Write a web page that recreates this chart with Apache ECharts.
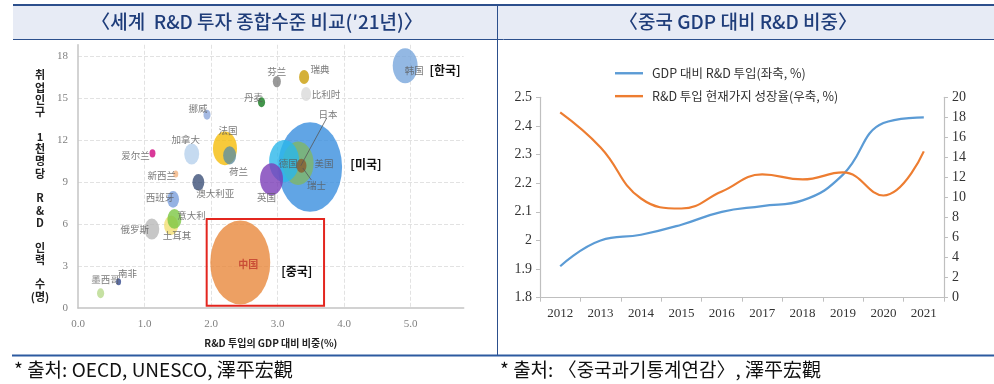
<!DOCTYPE html>
<html><head><meta charset="utf-8">
<script src="https://cdn.jsdelivr.net/npm/echarts@6/dist/echarts.min.js"></script>
<style>html,body{margin:0;padding:0;background:#fff}#c{width:994px;height:384px}</style>
</head><body><div id="c"></div>
<script>
// ---- Left chart data: world R&D comparison ('21) ----
const countries   = ['美国','中国','日本','德国','瑞士','英国','韩国','法国','荷兰','加拿大','爱尔兰','挪威','新西兰','澳大利亚','西班牙','土耳其','意大利','俄罗斯','南非','墨西哥','芬兰','瑞典','比利时','丹麦'];
const gdpShare    = [3.49, 2.44, 3.31, 3.10, 3.36, 2.91, 4.92, 2.21, 2.28, 1.71, 1.12, 1.94, 1.47, 1.81, 1.43, 1.40, 1.45, 1.11, 0.61, 0.34, 2.99, 3.40, 3.43, 2.76];
const researchers = [10.07, 3.25, 10.34, 10.50, 10.16, 9.20, 17.30, 11.40, 10.90, 11.00, 11.05, 13.80, 9.57, 8.98, 7.76, 5.90, 6.36, 5.64, 1.88, 1.05, 16.17, 16.50, 15.29, 14.69];
const rdSpend     = [809, 711, 190, 178, 20, 104, 123, 114, 33, 44, 7, 10, 5, 28, 28, 39, 39, 44, 5, 10, 13, 20, 20, 10];
const xTickLabels = ['0.0','1.0','2.0','3.0','4.0','5.0'];
const yTickLabels = ['0','3','6','9','12','15','18'];

// ---- Right chart data: China R&D / GDP ----
const years    = ['2012','2013','2014','2015','2016','2017','2018','2019','2020','2021'];
const rdToGdp  = [1.91, 2.00, 2.02, 2.055, 2.10, 2.12, 2.14, 2.23, 2.41, 2.43];
const rdGrowth = [18.5, 15.0, 9.9, 8.9, 10.6, 12.3, 11.8, 12.5, 10.2, 14.6];

// ---- styles (kept separate from data) ----
const bubbleColor = {
  '美国':'#3a8ede','中国':'#e8883c','日本':'#7fb666','德国':'#2bb6ea','瑞士':'#8a5a2c','英国':'#7a3db8',
  '韩国':'#78a6dc','法国':'#f5bd0a','荷兰':'#5e8fa2','加拿大':'#b6d1ec','爱尔兰':'#d0087f','挪威':'#8fa9dc',
  '新西兰':'#f2b37f','澳大利亚':'#3c5078','西班牙':'#7a9fdc','土耳其':'#f3df73','意大利':'#7cc744','俄罗斯':'#b9b9b9',
  '南非':'#344a8c','墨西哥':'#b8d98c','芬兰':'#7f7f7f','瑞典':'#c99c06','比利时':'#d9d9d9','丹麦':'#147a1e'
};
const labelOffset = {
  '美国':[14,-4],'中国':[8,2],'日本':[30,-49],'德国':[4,2],'瑞士':[15,20],'英国':[-5,18],
  '韩国':[9,5],'法国':[3,-18],'荷兰':[9,16],'加拿大':[-6,-15],'爱尔兰':[-17,2],'挪威':[-9,-6],
  '新西兰':[-14,1],'澳大利亚':[17,11],'西班牙':[-13,-2],'土耳其':[6,10],'意大利':[17,-4],'俄罗斯':[-17,0],
  '南非':[9,-8],'墨西哥':[5,-14],'芬兰':[0,-10],'瑞典':[16,-8],'比利时':[20,0],'丹麦':[-8,-5]
};
const sizeK = 2.25, stretch = 1.4;

const bubbleData = countries.map((n, i) => ({
  name: n,
  value: [gdpShare[i], researchers[i], rdSpend[i]],
  itemStyle: { color: bubbleColor[n] },
  label: n === '中国'
    ? { offset: labelOffset[n], color: '#c0392b', fontWeight: 'bold', fontSize: 10 }
    : { offset: labelOffset[n] }
}));

const chart = echarts.init(document.getElementById('c'), null, { renderer: 'canvas' });
const dark = '#2c4f8c';
const serif = 'Liberation Serif';
const kr = '"Noto Sans CJK KR", "Noto Sans", sans-serif';
const lineIcon = 'path://M0,0 L28,0 L28,2.4 L0,2.4 Z';

const option = {
  animation: false,
  backgroundColor: '#fff',
  grid: [
    { left: 78, top: 44.8, right: 530.3, bottom: 76 },
    { left: 540, top: 97.3, right: 50, bottom: 86.3 }
  ],
  legend: {
    data: [
      { name: 'GDP 대비 R&D 투입(좌축, %)', icon: lineIcon },
      { name: 'R&D 투입 현재가지 성장율(우축, %)', icon: lineIcon }
    ],
    orient: 'vertical', left: 610, top: 62,
    itemWidth: 28, itemHeight: 14, itemGap: 10.4, symbolKeepAspect: true,
    textStyle: { fontFamily: kr, fontSize: 12.5, color: '#333', padding: [0,0,0,4] }
  },
  xAxis: [
    {
      type: 'value', gridIndex: 0, min: 0, max: 5.8, interval: 1,
      axisLine: { show: true, lineStyle: { color: '#c4c4c4', width: 1.5 } },
      axisTick: { show: false },
      axisLabel: { formatter: v => xTickLabels[Math.round(v)] || '', showMaxLabel: false,
        color: '#808080', fontFamily: serif, fontSize: 11, margin: 11 },
      splitLine: { show: true, showMinLine: false, showMaxLine: false, lineStyle: { type: 'dashed', color: '#e2e2e2' } },
      name: 'R&D 투입의 GDP 대비 비중(%)', nameLocation: 'middle', nameGap: 30,
      nameTextStyle: { fontFamily: kr, fontWeight: 'bold', fontSize: 10, color: '#222' }
    },
    {
      type: 'category', gridIndex: 1, data: years, boundaryGap: true,
      axisLine: { lineStyle: { color: '#bfbfbf', width: 1.2 } },
      axisTick: { show: true, length: 4, lineStyle: { color: '#bfbfbf' } },
      axisLabel: { fontFamily: serif, fontSize: 13, color: '#333', margin: 9 }
    }
  ],
  yAxis: [
    {
      type: 'value', gridIndex: 0, min: 0, max: 18.8, interval: 3,
      axisLine: { show: true, lineStyle: { color: '#c4c4c4', width: 1.5 } },
      axisTick: { show: false },
      axisLabel: { formatter: v => yTickLabels[Math.round(v / 3)] || '', showMaxLabel: false,
        color: '#808080', fontFamily: serif, fontSize: 11, margin: 10 },
      splitLine: { show: true, showMinLine: false, showMaxLine: false, lineStyle: { type: 'dashed', color: '#e2e2e2' } }
    },
    {
      type: 'value', gridIndex: 1, position: 'left', min: 1.8, max: 2.5, interval: 0.1,
      axisLine: { show: true, lineStyle: { color: '#bfbfbf', width: 1.2 } },
      axisTick: { show: true, length: 4, lineStyle: { color: '#bfbfbf' } },
      axisLabel: { formatter: v => String(Math.round(v * 10) / 10), fontFamily: serif, fontSize: 14, color: '#333', margin: 8 },
      splitLine: { show: false }
    },
    {
      type: 'value', gridIndex: 1, position: 'right', min: 0, max: 20, interval: 2,
      axisLine: { show: true, lineStyle: { color: '#bfbfbf', width: 1.2 } },
      axisTick: { show: true, length: 4, lineStyle: { color: '#bfbfbf' } },
      axisLabel: { fontFamily: serif, fontSize: 14, color: '#333', margin: 8 },
      splitLine: { show: false }
    }
  ],
  series: [
    {
      type: 'scatter', xAxisIndex: 0, yAxisIndex: 0,
      data: bubbleData,
      symbol: 'circle',
      symbolSize: v => { const w = sizeK * Math.sqrt(v[2]); return [w, w * stretch]; },
      label: { show: true, position: 'inside', formatter: '{b}', fontFamily: '"Noto Sans CJK SC"', fontSize: 9.5, color: '#5a5a5a' },
      emphasis: { disabled: true },
      markArea: {
        silent: true,
        itemStyle: { color: 'rgba(0,0,0,0)', borderColor: '#e3261f', borderWidth: 2 },
        data: [[{ coord: [1.935, 6.36] }, { coord: [3.70, 0.16] }]]
      },
      markLine: {
        silent: true, symbol: 'none', animation: false,
        lineStyle: { color: '#555', width: 0.8, type: 'solid' },
        label: { show: false },
        data: [
          [{ coord: [3.74, 13.57] }, { coord: [3.35, 10.16] }],
          [{ coord: [3.38, 10.0] }, { coord: [3.51, 9.14] }]
        ]
      },
      markPoint: {
        silent: true, symbol: 'circle', symbolSize: 0,
        label: { show: true, position: 'inside', formatter: '{b}', fontFamily: kr, fontWeight: 'bold', fontSize: 12, color: '#111' },
        data: [
          { name: '[한국]', coord: [5.52, 16.95] },
          { name: '[미국]', coord: [4.33, 10.29] },
          { name: '[중국]', coord: [3.29, 2.59] }
        ]
      }
    },
    {
      name: 'GDP 대비 R&D 투입(좌축, %)', type: 'line', xAxisIndex: 1, yAxisIndex: 1,
      data: rdToGdp, smooth: 0.45, symbol: 'none',
      lineStyle: { color: '#5b9bd5', width: 2.2 }, itemStyle: { color: '#5b9bd5' }
    },
    {
      name: 'R&D 투입 현재가지 성장율(우축, %)', type: 'line', xAxisIndex: 1, yAxisIndex: 2,
      data: rdGrowth, smooth: 0.45, symbol: 'none',
      lineStyle: { color: '#ed7d31', width: 2.2 }, itemStyle: { color: '#ed7d31' }
    }
  ],
  graphic: [
    { type: 'rect', shape: { x: 13, y: 5, width: 981, height: 34 }, style: { fill: '#e7ebf5' }, z: -1 },
    { type: 'line', shape: { x1: 13, y1: 5, x2: 994, y2: 5 }, style: { stroke: dark, lineWidth: 2 } },
    { type: 'line', shape: { x1: 13, y1: 39.5, x2: 994, y2: 39.5 }, style: { stroke: dark, lineWidth: 1 } },
    { type: 'line', shape: { x1: 497.5, y1: 5, x2: 497.5, y2: 355 }, style: { stroke: dark, lineWidth: 1 } },
    { type: 'line', shape: { x1: 12, y1: 355.5, x2: 994, y2: 355.5 }, style: { stroke: '#2c5aa0', lineWidth: 2 } },
    { type: 'text', x: 257, y: 22, style: { text: '〈세계  R&D 투자 종합수준 비교(′21년)〉', fill: '#1f3d7a',
      font: '500 19px "Noto Sans CJK KR"', textAlign: 'center', textVerticalAlign: 'middle' } },
    { type: 'text', x: 738, y: 22, style: { text: '〈중국 GDP 대비 R&D 비중〉', fill: '#1f3d7a',
      font: '500 19px "Noto Sans CJK KR"', textAlign: 'center', textVerticalAlign: 'middle' } },
    { type: 'text', x: 14, y: 370, style: { text: '* 출처: OECD, UNESCO, 澤平宏觀', fill: '#111',
      font: '19px "Noto Sans CJK KR"', textAlign: 'left', textVerticalAlign: 'middle' } },
    { type: 'text', x: 500, y: 370, style: { text: '* 출처: 〈중국과기통계연감〉, 澤平宏觀', fill: '#111',
      font: '19px "Noto Sans CJK KR"', textAlign: 'left', textVerticalAlign: 'middle' } },
    { type: 'text', x: 40, y: 69, style: {
      text: ['취','업','인','구','','1','천','명','당','','R','&','D','','인','력','','수','(명)'].join('\n'),
      fill: '#222', font: 'bold 11px "Noto Sans CJK KR"', lineHeight: 12.3, textAlign: 'center', textVerticalAlign: 'top' } }
  ]
};
chart.setOption(option);
</script>
</body></html>
